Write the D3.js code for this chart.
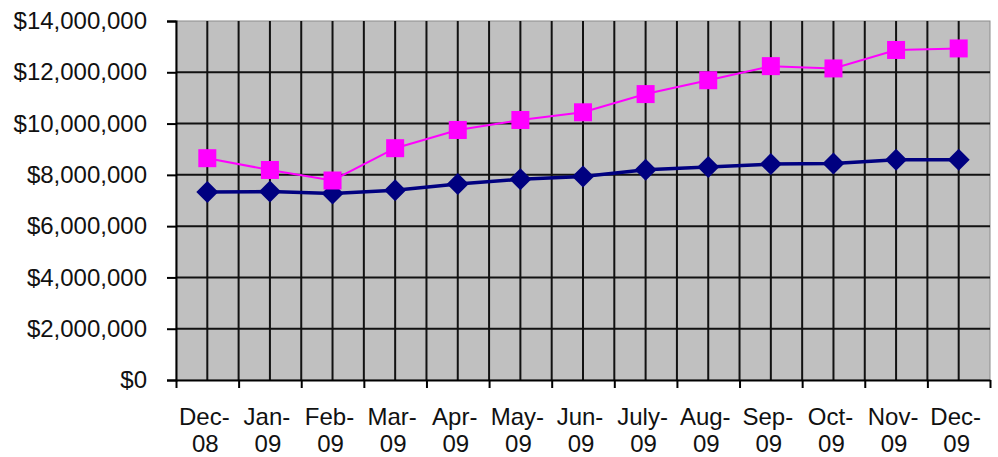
<!DOCTYPE html>
<html>
<head>
<meta charset="utf-8">
<script src="https://cdn.jsdelivr.net/npm/d3@7"></script>
<style>
  body { margin: 0; background: #fff; }
  svg { display: block; font-family: "Liberation Sans", Arial, sans-serif; }
</style>
</head>
<body>
<svg id="chart" width="998" height="457"></svg>
<script>
// categories and series
const months = ['Dec-08', 'Jan-09', 'Feb-09', 'Mar-09', 'Apr-09', 'May-09', 'Jun-09',
  'July-09', 'Aug-09', 'Sep-09', 'Oct-09', 'Nov-09', 'Dec-09'];
const pinkSeries = [8650000, 8190000, 7780000, 9040000, 9750000, 10140000, 10440000,
  11150000, 11690000, 12240000, 12150000, 12870000, 12930000];
const navySeries = [7330000, 7350000, 7270000, 7400000, 7640000, 7830000, 7940000,
  8200000, 8310000, 8420000, 8440000, 8590000, 8590000];
const yTicks = [0, 2000000, 4000000, 6000000, 8000000, 10000000, 12000000, 14000000];

const svg = d3.select('#chart');
const plotLeft = 176, plotRight = 990, plotTop = 21, plotBottom = 380;

const x = d3.scaleBand().domain(months).range([plotLeft, plotRight]).padding(0);
const xi = d3.scaleLinear().domain([0, months.length]).range([plotLeft, plotRight]);
const y = d3.scaleLinear().domain([0, 14000000]).range([plotBottom, plotTop]);

// plot background
svg.append('rect')
  .attr('x', plotLeft).attr('y', plotTop)
  .attr('width', plotRight - plotLeft).attr('height', plotBottom - plotTop)
  .attr('fill', '#c0c0c0')
  .attr('stroke', '#8c8c8c').attr('stroke-width', 1);

// horizontal gridlines
svg.append('g').selectAll('line').data(yTicks.filter(d => d > 0 && d < 14000000))
  .join('line')
  .attr('x1', plotLeft).attr('x2', plotRight)
  .attr('y1', d => y(d)).attr('y2', d => y(d))
  .attr('stroke', '#111').attr('stroke-width', 2);

// vertical gridlines (boundaries and centres)
svg.append('g').selectAll('line').data(d3.range(0.5, months.length, 0.5))
  .join('line')
  .attr('x1', d => xi(d)).attr('x2', d => xi(d))
  .attr('y1', plotTop).attr('y2', plotBottom)
  .attr('stroke', '#111').attr('stroke-width', 2);

// y axis
const yAxis = svg.append('g')
  .attr('transform', `translate(${plotLeft},0)`)
  .call(d3.axisLeft(y).tickValues(yTicks).tickSize(9).tickPadding(20)
    .tickFormat(d => '$' + d3.format(',')(d)));
yAxis.select('.domain').attr('stroke', '#000').attr('stroke-width', 2);
yAxis.selectAll('.tick line').attr('stroke', '#000').attr('stroke-width', 2);
yAxis.selectAll('text').attr('font-size', 24).attr('fill', '#111')
  .attr('font-family', '"Liberation Sans", Arial, sans-serif');

// x axis ticks at category boundaries
const xTicksAxis = svg.append('g')
  .attr('transform', `translate(0,${plotBottom})`)
  .call(d3.axisBottom(xi).tickValues(d3.range(0, months.length + 1)).tickSize(8)
    .tickSizeOuter(0).tickFormat(''));
xTicksAxis.select('.domain').attr('stroke', '#000').attr('stroke-width', 2);
xTicksAxis.selectAll('.tick line').attr('stroke', '#000').attr('stroke-width', 2);

// x labels, two lines each
const labels = svg.append('g').selectAll('text').data(months)
  .join('text')
  .attr('text-anchor', 'middle')
  .attr('font-size', 24)
  .attr('fill', '#111');
labels.each(function(d) {
  const parts = d.split('-');
  const t = d3.select(this);
  const c = x(d) + x.bandwidth() / 2;
  t.append('tspan').attr('x', c - 3).attr('y', 425).text(parts[0] + '-');
  t.append('tspan').attr('x', c - 2).attr('y', 452).text(parts[1]);
});

const cx = d => x(d) + x.bandwidth() / 2;

// navy series
const navyData = months.map((m, i) => ({ m, v: navySeries[i] }));
svg.append('path').datum(navyData)
  .attr('fill', 'none').attr('stroke', '#000080').attr('stroke-width', 3.5)
  .attr('d', d3.line().x(d => cx(d.m)).y(d => y(d.v)));
svg.append('g').selectAll('path').data(navyData)
  .join('path')
  .attr('transform', d => `translate(${cx(d.m)},${y(d.v)})`)
  .attr('d', 'M0,-11L11,0L0,11L-11,0Z')
  .attr('fill', '#000080');

// magenta series
const pinkData = months.map((m, i) => ({ m, v: pinkSeries[i] }));
svg.append('path').datum(pinkData)
  .attr('fill', 'none').attr('stroke', '#ff00ff').attr('stroke-width', 2)
  .attr('d', d3.line().x(d => cx(d.m)).y(d => y(d.v)));
svg.append('g').selectAll('rect').data(pinkData)
  .join('rect')
  .attr('x', d => cx(d.m) - 9).attr('y', d => y(d.v) - 9)
  .attr('width', 18).attr('height', 18)
  .attr('fill', '#ff00ff');
</script>
</body>
</html>
